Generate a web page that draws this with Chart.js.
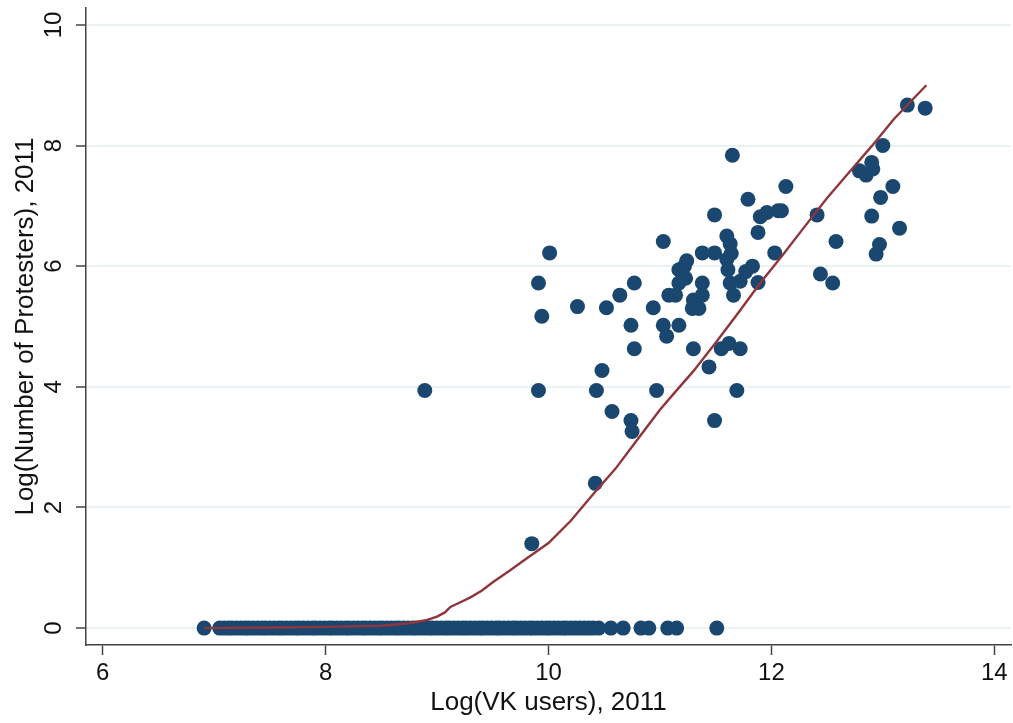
<!DOCTYPE html>
<html>
<head>
<meta charset="utf-8">
<title>Protesters vs VK users</title>
<script src="https://cdn.jsdelivr.net/npm/chart.js@4.4.1/dist/chart.umd.min.js"></script>
<style>
  html, body { margin: 0; padding: 0; background: #fff; }
  canvas { display: block; }
</style>
</head>
<body>
<canvas id="myChart" width="1013" height="723"></canvas>
<script>
// tick labels
const xTicks = [6, 8, 10, 12, 14];
const yTicks = [0, 2, 4, 6, 8, 10];

// regions with protesters > 0
const ptX = [8.89, 9.85, 9.91, 9.94, 9.91, 10.01, 10.26, 10.42, 10.43, 10.48,
  10.52, 10.57, 10.64, 10.74, 10.74, 10.75, 10.77, 10.77, 10.94, 10.97,
  11.03, 11.03, 11.06, 11.08, 11.14, 11.17, 11.17, 11.17, 11.23, 11.22,
  11.24, 11.30, 11.30, 11.29, 11.35, 11.38, 11.38, 11.38, 11.44, 11.49,
  11.49, 11.49, 11.55, 11.60, 11.60, 11.61, 11.62, 11.63, 11.64, 11.63,
  11.65, 11.66, 11.69, 11.72, 11.72, 11.77, 11.79, 11.83, 11.88, 11.88,
  11.90, 11.96, 12.03, 12.06, 12.09, 12.13, 12.41, 12.44, 12.55, 12.58,
  12.79, 12.85, 12.91, 12.90, 12.90, 12.94, 12.97, 12.98, 13.00, 13.09,
  13.15, 13.22, 13.38];
const ptY = [3.94, 1.40, 5.72, 5.17, 3.94, 6.22, 5.33, 2.40, 3.94, 4.27,
  5.31, 3.59, 5.52, 5.02, 3.44, 3.26, 5.72, 4.63, 5.31, 3.94,
  6.41, 5.02, 4.84, 5.52, 5.52, 5.02, 5.72, 5.94, 5.80, 6.00,
  6.09, 4.63, 5.44, 5.30, 5.30, 5.52, 5.72, 6.22, 4.33, 6.22,
  3.44, 6.85, 4.63, 6.50, 6.11, 5.94, 4.72, 6.37, 6.21, 5.72,
  7.84, 5.52, 3.94, 4.63, 5.75, 5.91, 7.11, 6.00, 6.56, 5.73,
  6.82, 6.89, 6.22, 6.92, 6.92, 7.32, 6.85, 5.87, 5.72, 6.41,
  7.58, 7.51, 7.61, 7.72, 6.83, 6.20, 6.36, 7.14, 8.00, 7.32,
  6.63, 8.67, 8.62];

// regions with no protests (log value 0)
const zeroX = [6.91, 7.05, 7.09, 7.13, 7.16, 7.20, 7.24, 7.28, 7.31, 7.35,
  7.39, 7.43, 7.46, 7.50, 7.54, 7.58, 7.61, 7.65, 7.69, 7.73,
  7.76, 7.80, 7.84, 7.88, 7.91, 7.95, 7.99, 8.03, 8.06, 8.10,
  8.14, 8.18, 8.21, 8.25, 8.29, 8.33, 8.36, 8.40, 8.44, 8.48,
  8.51, 8.55, 8.59, 8.63, 8.66, 8.70, 8.74, 8.78, 8.81, 8.85,
  8.89, 8.93, 8.96, 9.00, 9.04, 9.08, 9.11, 9.15, 9.19, 9.23,
  9.26, 9.30, 9.34, 9.38, 9.41, 9.45, 9.49, 9.53, 9.56, 9.60,
  9.64, 9.68, 9.71, 9.75, 9.79, 9.83, 9.86, 9.90, 9.94, 9.98,
  10.01, 10.05, 10.09, 10.13, 10.16, 10.20, 10.24, 10.28, 10.32, 10.36,
  10.40, 10.45, 10.56, 10.67, 10.83, 10.90, 11.07, 11.15, 11.51];

// lowess fit
const fitX = [6.91, 7.5, 8.0, 8.5, 8.75, 8.9, 9.0, 9.07, 9.12, 9.2,
  9.3, 9.4, 9.5, 9.65, 9.8, 10.0, 10.2, 10.4, 10.6, 10.8,
  11.0, 11.13, 11.3, 11.5, 11.7, 11.9, 12.1, 12.3, 12.5, 12.7,
  12.9, 13.1, 13.39];
const fitY = [0.0, 0.01, 0.02, 0.04, 0.08, 0.13, 0.19, 0.26, 0.35, 0.42,
  0.51, 0.62, 0.76, 0.95, 1.15, 1.41, 1.78, 2.22, 2.64, 3.13,
  3.62, 3.90, 4.26, 4.73, 5.22, 5.72, 6.18, 6.66, 7.13, 7.56,
  7.99, 8.44, 9.00];

const navy = "#1a476f";
const maroon = "#90353b";
const axisColor = "#444444";
const gridColor = "#eaf2f3";
const fontFamily = "'Liberation Sans', Arial, sans-serif";

let points = ptX.map((x, i) => ({ x: x, y: ptY[i] }));
zeroX.forEach((x) => points.push({ x: x, y: 0 }));
let fit = fitX.map((x, i) => ({ x: x, y: fitY[i] }));

// no extra room for overhanging tick labels
function noPad(s) {
  s.paddingTop = 0;
  s.paddingBottom = 0;
  s.paddingLeft = 0;
  s.paddingRight = 0;
}

new Chart("myChart", {
  type: "scatter",
  data: {
    datasets: [
      {
        data: fit,
        showLine: true,
        borderColor: maroon,
        borderWidth: 2.4,
        pointRadius: 0,
        tension: 0,
        fill: false,
      },
      {
        data: points,
        backgroundColor: navy,
        borderWidth: 0,
        pointRadius: 7.5,
      },
    ],
  },
  options: {
    responsive: false,
    animation: false,
    events: [],
    layout: { autoPadding: false, padding: { top: 8, right: 2, left: 0, bottom: 0 } },
    plugins: { legend: { display: false }, tooltip: { enabled: false } },
    scales: {
      x: {
        type: "linear",
        min: 5.85,
        max: 14.15,
        afterBuildTicks: (s) => { s.ticks = xTicks.map((v) => ({ value: v })); },
        afterFit: (s) => { s.height = 78; noPad(s); },
        border: { color: axisColor, width: 1.5 },
        grid: { drawOnChartArea: false, tickColor: axisColor, tickLength: 10, tickWidth: 1.5 },
        ticks: {
          color: "#111",
          padding: 4,
          maxRotation: 0,
          font: { family: fontFamily, size: 24 },
        },
        title: {
          display: true,
          text: "Log(VK users), 2011",
          color: "#111",
          padding: { top: 0, bottom: 5 },
          font: { family: fontFamily, size: 26 },
        },
      },
      y: {
        type: "linear",
        min: -0.28,
        max: 10.28,
        afterBuildTicks: (s) => { s.ticks = yTicks.map((v) => ({ value: v })); },
        afterFit: (s) => { s.width = 86; noPad(s); },
        border: { color: axisColor, width: 1.5 },
        grid: { color: gridColor, lineWidth: 2, tickColor: axisColor, tickLength: 10, tickWidth: 1.5 },
        ticks: {
          color: "#111",
          padding: 8,
          minRotation: 90,
          maxRotation: 90,
          crossAlign: "center",
          font: { family: fontFamily, size: 24 },
        },
        title: {
          display: true,
          text: "Log(Number of Protesters), 2011",
          color: "#111",
          padding: { top: 10, bottom: 0 },
          font: { family: fontFamily, size: 26 },
        },
      },
    },
  },
});
</script>
</body>
</html>
